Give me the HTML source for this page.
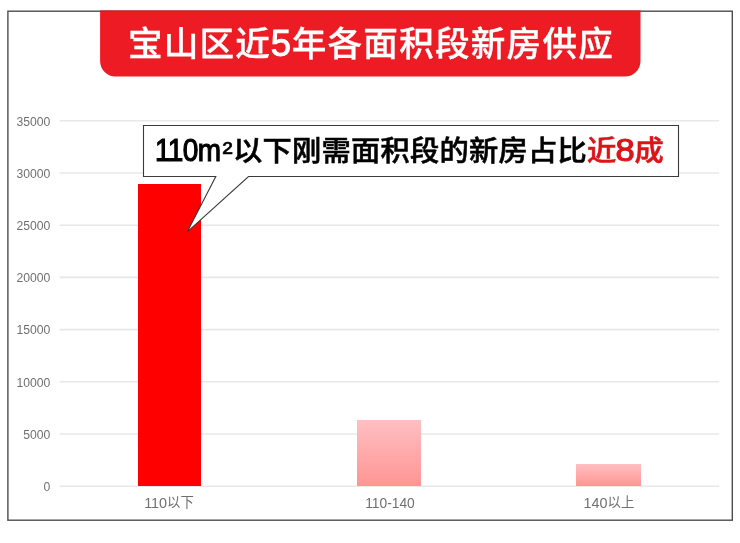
<!DOCTYPE html>
<html lang="zh-CN">
<head>
<meta charset="utf-8">
<title>宝山区近5年各面积段新房供应</title>
<style>
html,body{margin:0;padding:0;background:#fff;}
body{width:740px;height:543px;position:relative;overflow:hidden;font-family:"Liberation Sans","Noto Sans CJK SC",sans-serif;}
#frame{position:absolute;left:0;top:0;}
#title{position:absolute;left:101px;top:11px;width:540px;height:66px;line-height:66px;text-align:center;color:#fff;font-size:34.6px;letter-spacing:1.25px;-webkit-text-stroke:0.35px #fff;font-weight:500;white-space:nowrap;font-family:"Liberation Sans","Noto Sans CJK SC",sans-serif;}
.yl{position:absolute;left:0;width:50.4px;text-align:right;font-size:12.2px;line-height:14px;color:#707070;margin-top:.6px;}
.xl{position:absolute;width:120px;text-align:center;font-size:14.4px;line-height:16px;color:#707070;top:495px;}
.xl span{font-size:13.4px;position:relative;top:-1px;}
.bar{position:absolute;width:64px;}
#b1{left:138px;top:184px;width:63px;height:302px;background:#fe0000;}
#b2{left:357px;top:420px;height:66px;background:linear-gradient(#ffbfc2,#ff9593);}
#b3{left:576px;top:464px;width:65px;height:22px;background:linear-gradient(#ffbfc2,#ff9593);}
#callout{position:absolute;left:0;top:0;}
#ctext{position:absolute;left:155px;top:124.5px;height:51px;line-height:51px;font-size:27.9px;letter-spacing:.2px;font-weight:500;-webkit-text-stroke:0.55px currentColor;color:#000;white-space:nowrap;transform:scaleX(1.05);transform-origin:0 50%;}
#ctext .r{color:#dc1418;}
#ctext .e{display:inline-block;position:relative;top:.4px;letter-spacing:0;font-size:31px;font-weight:400;-webkit-text-stroke:1.1px currentColor;transform:scaleX(1.06);margin:0 0;line-height:51px;}
#ctext .lat{display:inline-block;position:relative;top:0;letter-spacing:-.7px;font-size:31px;font-weight:400;-webkit-text-stroke:1.15px currentColor;transform:scaleX(.86);transform-origin:0 50%;margin-right:-8.1px;line-height:51px;vertical-align:baseline;}
#ctext .sq{letter-spacing:0;font-weight:400;-webkit-text-stroke:0.6px currentColor;font-size:29px;position:relative;top:1px;margin-right:.2px;}
#title b{font-weight:400;font-size:36.5px;-webkit-text-stroke:1px #fff;margin:0 -.55px;line-height:1;}
</style>
</head>
<body>
<svg id="frame" width="740" height="543" viewBox="0 0 740 543"><rect x="7.9" y="11.2" width="724.4" height="509" fill="#fff" stroke="#4d4d4d" stroke-width="1.4"/><g stroke="#e8e8e8" stroke-width="1.6"><line x1="59.6" x2="719.2" y1="120.8" y2="120.8"/><line x1="59.6" x2="719.2" y1="173.0" y2="173.0"/><line x1="59.6" x2="719.2" y1="225.2" y2="225.2"/><line x1="59.6" x2="719.2" y1="277.4" y2="277.4"/><line x1="59.6" x2="719.2" y1="329.6" y2="329.6"/><line x1="59.6" x2="719.2" y1="381.8" y2="381.8"/><line x1="59.6" x2="719.2" y1="434.0" y2="434.0"/><line x1="59.6" x2="719.2" y1="486.2" y2="486.2"/></g>
<path d="M100.1 10.5 H640.5 V61.1 A15.5 15.5 0 0 1 625.0 76.6 H115.6 A15.5 15.5 0 0 1 100.1 61.1 Z" fill="#ed1c24"/><line x1="100.1" x2="640.5" y1="11.3" y2="11.3" stroke="#b82a3a" stroke-width="1.3"/></svg>
<div id="title">宝山区近<b>5</b>年各面积段新房供应</div>


<div class="yl" style="top:114px">35000</div>
<div class="yl" style="top:166px">30000</div>
<div class="yl" style="top:218px">25000</div>
<div class="yl" style="top:270px">20000</div>
<div class="yl" style="top:322px">15000</div>
<div class="yl" style="top:375px">10000</div>
<div class="yl" style="top:427px">5000</div>
<div class="yl" style="top:479px">0</div>

<div class="bar" id="b1"></div>
<div class="bar" id="b2"></div>
<div class="bar" id="b3"></div>

<div class="xl" style="left:109px">110<span>以下</span></div>
<div class="xl" style="left:330px;top:496px;font-size:13.8px">110-140</div>
<div class="xl" style="left:549px">140<span>以上</span></div>

<svg id="callout" width="740" height="543" viewBox="0 0 740 543">
  <path d="M143.5 125.5 H678.5 V176.5 H248.5 L187.3 231.8 L215.8 176.5 H143.5 Z" fill="#fff" stroke="#3a3a3a" stroke-width="1.1" stroke-linejoin="miter"/>
</svg>
<div id="ctext"><span class="lat">110m</span><span class="sq">²</span>以下刚需面积段的新房占比<span class="r">近<span class="e">8</span>成</span></div>
</body>
</html>
